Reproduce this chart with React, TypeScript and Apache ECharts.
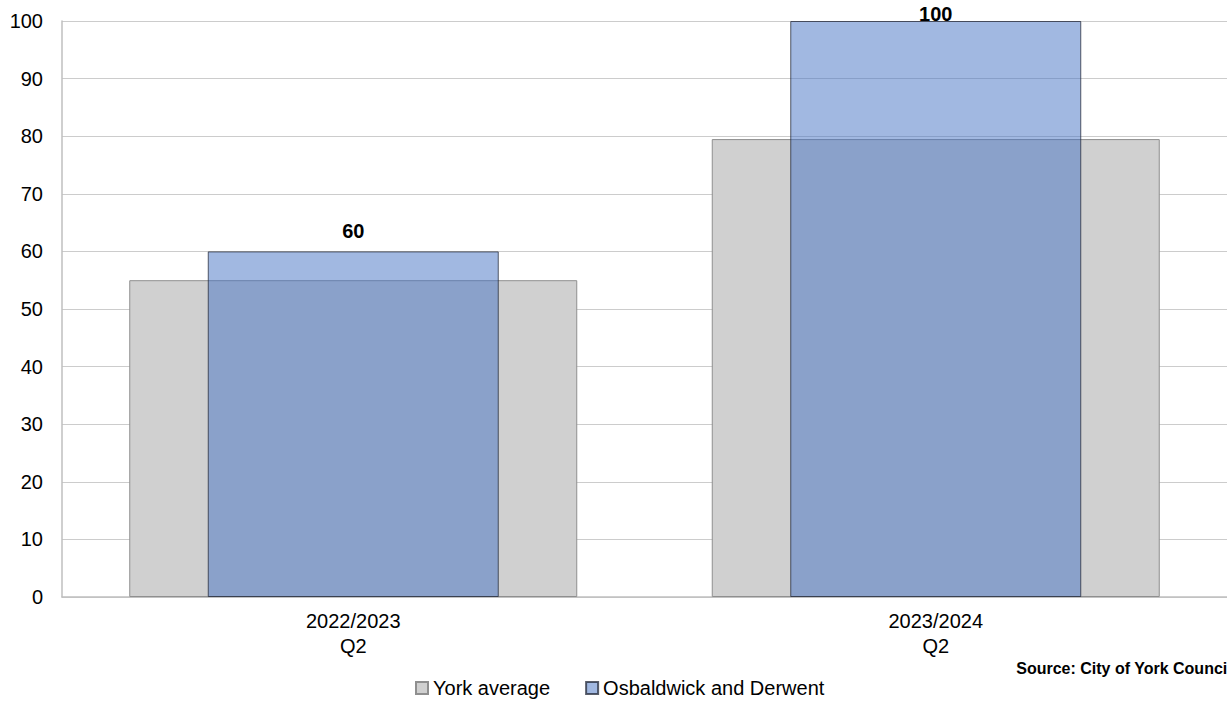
import React, { useEffect, useRef } from "react";
import * as echarts from "echarts";

const categories = ["2022/2023\nQ2", "2023/2024\nQ2"];
const yorkAverage = [55, 79.5];
const osbaldwick = [60, 100];
const seriesNames = ["York average", "Osbaldwick and Derwent"];
const sourceText = "Source: City of York Council";

const FONT = "'Liberation Sans', Arial, sans-serif";

export default function App() {
  const ref = useRef<HTMLDivElement>(null);
  useEffect(() => {
    if (!ref.current) return;
    const chart = echarts.init(ref.current, undefined, { renderer: "svg" });
    chart.setOption({
      animation: false,
      backgroundColor: "#ffffff",
      textStyle: { fontFamily: FONT },
      grid: { left: 62, right: 0, top: 21, bottom: 104, containLabel: false },
      legend: {
        left: 410,
        top: 673,
        itemWidth: 12,
        itemHeight: 12,
        itemGap: 35,
        icon: "rect",
        textStyle: { fontSize: 20, color: "#000", fontFamily: FONT },
        data: seriesNames,
      },
      xAxis: [
        {
          type: "category",
          data: categories,
          axisLine: { show: true, lineStyle: { color: "#BFBFBF", width: 1.5 } },
          axisTick: { show: false },
          axisLabel: {
            margin: 11,
            fontSize: 20,
            lineHeight: 25,
            color: "#000",
            fontFamily: FONT,
            align: "center",
          },
          splitLine: { show: false },
        },
        {
          type: "category",
          data: categories,
          show: false,
        },
      ],
      yAxis: {
        type: "value",
        min: 0,
        max: 100,
        interval: 10,
        axisLine: { show: true, lineStyle: { color: "#BFBFBF", width: 1.5 } },
        axisTick: { show: false },
        axisLabel: { margin: 19, fontSize: 20, color: "#000", fontFamily: FONT },
        splitLine: { show: true, lineStyle: { color: "#CCCCCC", width: 1 } },
      },
      series: [
        {
          name: seriesNames[0],
          type: "bar",
          xAxisIndex: 0,
          barWidth: 448,
          data: yorkAverage,
          itemStyle: { color: "#D0D0D0", borderColor: "#8F8F8F", borderWidth: 1 },
          z: 2,
        },
        {
          name: seriesNames[1],
          type: "bar",
          xAxisIndex: 1,
          barWidth: 291,
          data: osbaldwick.map((v) => ({
            value: v,
            label: { distance: v >= 100 ? -3 : 10 },
          })),
          itemStyle: {
            color: "rgba(68,114,196,0.5)",
            borderColor: "rgba(35,40,55,0.75)",
            borderWidth: 1,
          },
          label: {
            show: true,
            position: "top",
            fontSize: 20,
            fontWeight: "bold",
            color: "#000",
            fontFamily: FONT,
          },
          z: 3,
        },
      ],
      graphic: [
        {
          type: "text",
          right: -5,
          top: 660,
          style: {
            text: sourceText,
            font: `bold 16px ${FONT}`,
            fill: "#000",
          },
        },
      ],
    });
    return () => chart.dispose();
  }, []);
  return (
    <div
      ref={ref}
      style={{ position: "absolute", left: 0, top: 0, width: 1227, height: 701 }}
    />
  );
}
